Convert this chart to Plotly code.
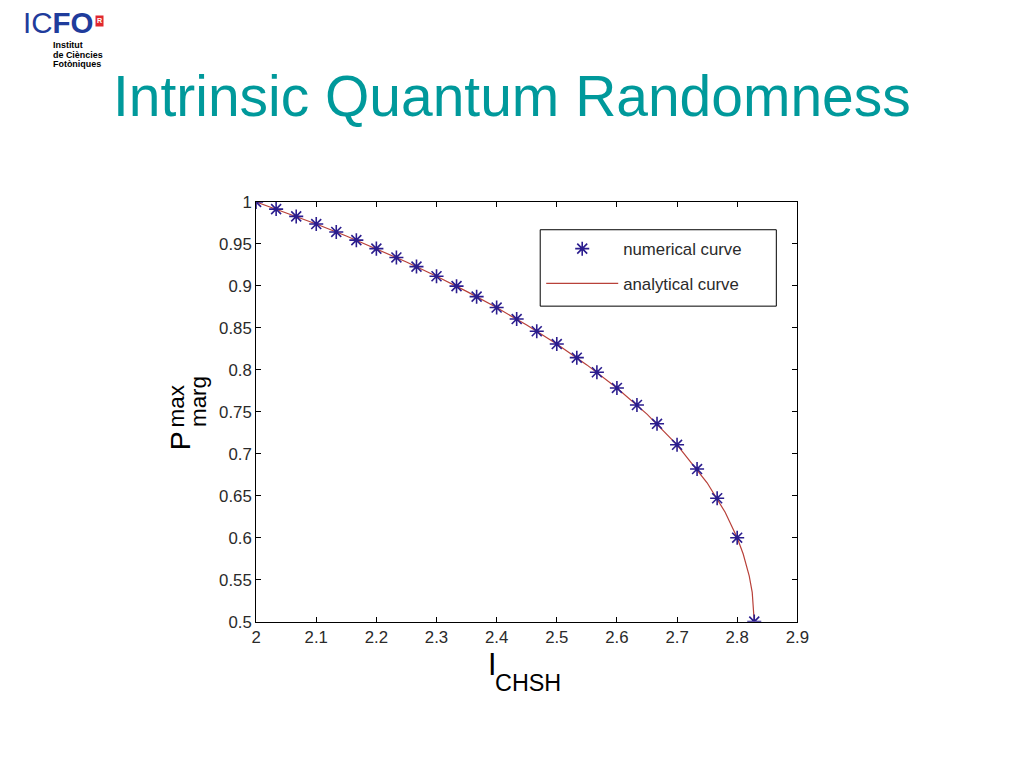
import plotly.graph_objects as go

# ---- data ----
num_x = [2.0, 2.0333, 2.0667, 2.1, 2.1333, 2.1667, 2.2, 2.2333, 2.2667, 2.3,
         2.3333, 2.3667, 2.4, 2.4333, 2.4667, 2.5, 2.5333, 2.5667, 2.6, 2.6333,
         2.6667, 2.7, 2.7333, 2.7667, 2.8, 2.8284]
num_y = [1.0, 0.9915, 0.9828, 0.9737, 0.9643, 0.9545, 0.9444, 0.9339, 0.923, 0.9115,
         0.8997, 0.8872, 0.8742, 0.8605, 0.846, 0.8307, 0.8145, 0.7971, 0.7784, 0.7581,
         0.7357, 0.7107, 0.6818, 0.647, 0.6, 0.5]

ana_x = [2.0, 2.05, 2.1, 2.15, 2.2, 2.25, 2.3, 2.35, 2.4, 2.45, 2.5, 2.55, 2.6,
         2.65, 2.7, 2.75, 2.78, 2.8, 2.81, 2.82, 2.825, 2.828, 2.8284]
ana_y = [1.0, 0.9872, 0.9737, 0.9595, 0.9444, 0.9285, 0.9115, 0.8935, 0.8742, 0.8533,
         0.8307, 0.8059, 0.7784, 0.7472, 0.7107, 0.6654, 0.6303, 0.6, 0.5806, 0.5546,
         0.5348, 0.5122, 0.5]

x_ticks = [2.0, 2.1, 2.2, 2.3, 2.4, 2.5, 2.6, 2.7, 2.8, 2.9]
x_tick_labels = ["2", "2.1", "2.2", "2.3", "2.4", "2.5", "2.6", "2.7", "2.8", "2.9"]
y_ticks = [0.5, 0.55, 0.6, 0.65, 0.7, 0.75, 0.8, 0.85, 0.9, 0.95, 1.0]
y_tick_labels = ["0.5", "0.55", "0.6", "0.65", "0.7", "0.75", "0.8", "0.85", "0.9", "0.95", "1"]

title_text = "Intrinsic Quantum Randomness"
legend_names = ["numerical curve", "analytical curve"]
logo_lines = ["Institut", "de Ciències", "Fotòniques"]

W, H = 1024, 768
FONT = "Liberation Sans, Arial, sans-serif"

# calibration of the page capture (observed uniform scale + offset)
S, BX, BY = 0.983, 5.0, 5.5


def px(t):
    return ((t - BX) / S) / W


def py(t):
    return 1 - ((t - BY) / S) / H


def fs(s):
    return s / S


fig = go.Figure()
fig.add_trace(go.Scatter(
    x=ana_x, y=ana_y, mode="lines", name=legend_names[1], legendgroup="b",
    legendrank=2,
    line=dict(color="#b8413a", width=1.2),
))
fig.add_trace(go.Scatter(
    x=num_x, y=num_y, mode="markers", name=legend_names[0], legendgroup="a",
    legendrank=1,
    marker=dict(symbol="asterisk-open", size=fs(11.5), color="#2b1d8e",
                line=dict(width=1.6, color="#2b1d8e")),
))

axis_common = dict(
    showline=True, linecolor="black", linewidth=1, mirror="ticks",
    ticks="inside", ticklen=5, tickcolor="black", showgrid=False, zeroline=False,
    tickfont=dict(family=FONT, size=fs(16.5), color="#2a2a2a"),
)

fig.update_layout(
    width=W, height=H, autosize=False,
    margin=dict(l=0, r=0, t=0, b=0),
    paper_bgcolor="white", plot_bgcolor="white",
    showlegend=True,
    legend=dict(
        x=px(541), y=py(229.5), xanchor="left", yanchor="top",
        borderwidth=0, bgcolor="rgba(0,0,0,0)",
        font=dict(family=FONT, size=fs(16.5), color="#2a2a2a"),
        itemwidth=72, tracegroupgap=10, traceorder="grouped",
    ),
    xaxis=dict(domain=[px(256), px(797)], range=[2.0, 2.9],
               tickvals=x_ticks, ticktext=x_tick_labels, **axis_common),
    yaxis=dict(domain=[py(623), py(200)], range=[0.5, 1.0],
               tickvals=y_ticks, ticktext=y_tick_labels, **axis_common),
    shapes=[dict(type="rect", xref="paper", yref="paper",
                 x0=px(540), x1=px(776), y0=py(305), y1=py(228),
                 line=dict(color="black", width=1), fillcolor="white",
                 layer="below")],
)


def txt(text, x, y, size, color="black", xanchor="center", angle=0, **kw):
    return dict(text=text, x=px(x), y=py(y), xref="paper", yref="paper",
                xanchor=xanchor, yanchor="middle", textangle=angle,
                showarrow=False, font=dict(family=FONT, size=fs(size), color=color), **kw)


ann = [
    txt(title_text, 512, 93, 56, color="#00999b"),
    txt("IC<b>FO</b>", 21, 19, 29, color="#1f3c9c", xanchor="left"),
    txt("<b>R</b>", 99, 18, 7, color="white", bgcolor="#e0282e", borderpad=1),
    txt("<b>" + logo_lines[0] + "</b>", 51, 42, 8.8, xanchor="left"),
    txt("<b>" + logo_lines[1] + "</b>", 51, 51.5, 8.8, xanchor="left"),
    txt("<b>" + logo_lines[2] + "</b>", 51, 61, 8.8, xanchor="left"),
    # y label: P^max_marg (rotated)
    txt("P", 180, 441, 28, angle=-90),
    txt("max", 176, 406, 22, angle=-90),
    txt("marg", 198.5, 401, 22, angle=-90),
    # x label: I_CHSH
    txt("I", 491.5, 666, 30),
    txt("CHSH", 528, 685, 23),
]

fig.update_layout(annotations=ann)
fig.write_html(
    "out.html",
    config={"displayModeBar": False},
    post_script=(
        "document.documentElement.style.margin='0';"
        "document.body.style.margin='0';"
        "document.body.style.overflow='hidden';"
        "var gd=document.getElementById('{plot_id}');"
        "gd.style.position='fixed';gd.style.left='0px';gd.style.top='0px';"
    ),
)
